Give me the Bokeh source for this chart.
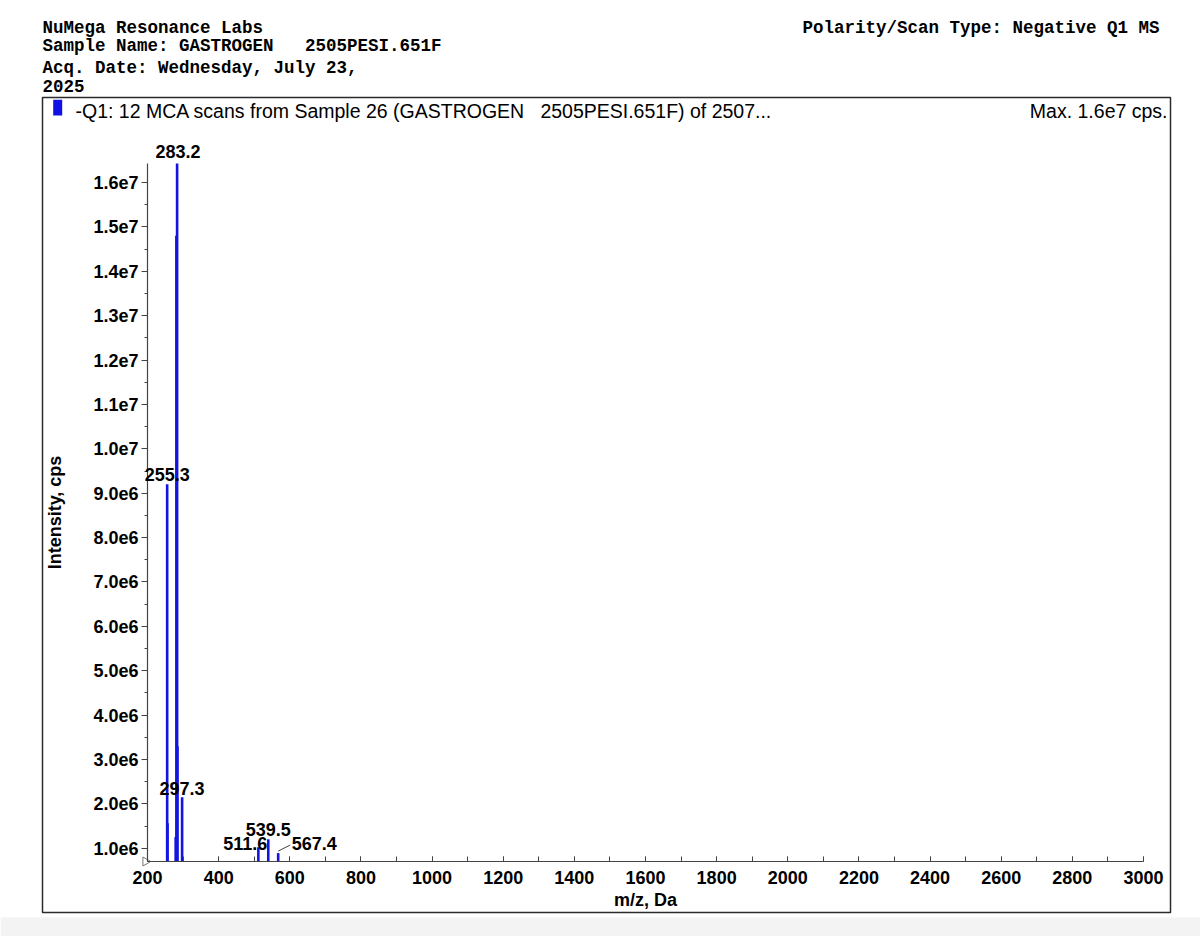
import math
from bokeh.plotting import figure
from bokeh.models import Range1d, FixedTicker, Label, BoxAnnotation, ColumnDataSource, LabelSet
from bokeh.embed import file_html
from bokeh.resources import INLINE
from bokeh.core.properties import value

# ---------------- data ----------------
peak_mz = [255.3, 256.3, 279.2, 281.2, 283.2, 284.2, 297.3, 511.6, 539.5, 567.4]
peak_int = [9.2e6, 1.56e6, 1.25e6, 1.48e7, 1.643e7, 3.3e6, 2.15e6, 1.02e6, 1.2e6, 0.89e6]

label_mz = [283.2, 255.3, 297.3, 511.6, 539.5, 567.4]
label_int = [1.643e7, 9.2e6, 2.15e6, 1.02e6, 1.2e6, 0.89e6]
label_text = ["283.2", "255.3", "297.3", "511.6", "539.5", "567.4"]

y_ticks = [1e6, 2e6, 3e6, 4e6, 5e6, 6e6, 7e6, 8e6, 9e6, 1e7, 1.1e7, 1.2e7, 1.3e7, 1.4e7, 1.5e7, 1.6e7]
y_tick_labels = ["1.0e6", "2.0e6", "3.0e6", "4.0e6", "5.0e6", "6.0e6", "7.0e6", "8.0e6", "9.0e6",
                 "1.0e7", "1.1e7", "1.2e7", "1.3e7", "1.4e7", "1.5e7", "1.6e7"]
x_ticks = [200, 400, 600, 800, 1000, 1200, 1400, 1600, 1800, 2000, 2200, 2400, 2600, 2800, 3000]
x_tick_labels = [str(t) for t in x_ticks]

NB3 = "\u00a0\u00a0\u00a0"  # three visible spaces (SVG would collapse plain ones)
header_left = ["NuMega Resonance Labs",
               "Sample Name: GASTROGEN" + NB3 + "2505PESI.651F",
               "Acq. Date: Wednesday, July 23,",
               "2025"]
header_right = "Polarity/Scan Type: Negative Q1 MS"
trace_title = "-Q1: 12 MCA scans from Sample 26 (GASTROGEN" + NB3 + "2505PESI.651F) of 2507..."
max_text = "Max. 1.6e7 cps."

# ---------------- layout constants (page pixels) ----------------
W, H = 1200, 936
X0, X1 = 200, 3000            # m/z axis extent
Y0, Y1 = 0.70e6, 16.43e6      # intensity axis extent
XA_PX, XB_PX = 147, 1143      # pixel of X0, X1
YA_PX, YB_PX = 861, 163       # pixel of Y0, Y1
kx = (X1 - X0) / (XB_PX - XA_PX)
ky = (Y1 - Y0) / (YA_PX - YB_PX)


def X(px):
    return X0 + (px - XA_PX) * kx


def Y(py):
    return Y0 + (YA_PX - py) * ky


BLUE = "#1414e0"
SANS = "Liberation Sans"
MONO = "Liberation Mono"

p = figure(width=W, height=H, output_backend="svg", toolbar_location=None, title_location=None,
           x_range=Range1d(X(0), X(W)), y_range=Range1d(Y(H), Y(0)),
           min_border=0, min_border_left=0, min_border_right=0,
           min_border_top=0, min_border_bottom=0)
p.outline_line_color = None
p.grid.visible = False
p.background_fill_color = "white"
p.border_fill_color = "white"

# light grey strip at the page bottom
p.add_layout(BoxAnnotation(left=X(0), right=X(W), top=Y(917), bottom=Y(H),
                           fill_color="#f3f3f3", fill_alpha=1, line_color=None, level="underlay"))

# axes (fixed inside the frame, bounded to the data extents)
xa = p.xaxis[0]
xa.fixed_location = Y0
xa.bounds = (X0, X1)
xa.ticker = FixedTicker(ticks=x_ticks, minor_ticks=list(range(200, 3001, 100)))
xa.major_label_overrides = {t: l for t, l in zip(x_ticks, x_tick_labels)}
xa.axis_label = "m/z, Da"
ya = p.yaxis[0]
ya.fixed_location = X0
ya.bounds = (Y0, Y1)
ya.ticker = FixedTicker(ticks=y_ticks, minor_ticks=[v * 0.5e6 for v in range(2, 33)])
ya.major_label_overrides = {t: l for t, l in zip(y_ticks, y_tick_labels)}
ya.axis_label = "Intensity, cps"
for ax in (xa, ya):
    ax.axis_line_color = "#444444"
    ax.axis_line_width = 1.2
    ax.major_tick_line_color = "#444444"
    ax.minor_tick_line_color = "#444444"
    ax.major_label_text_font = SANS
    ax.major_label_text_font_style = "bold"
    ax.major_label_text_font_size = "18px"
    ax.major_label_text_color = "black"
    ax.axis_label_text_font = SANS
    ax.axis_label_text_font_style = "bold"
    ax.axis_label_text_font_size = "18px"
    ax.axis_label_text_color = "black"
xa.major_tick_in, xa.major_tick_out = 5, 0
xa.minor_tick_in, xa.minor_tick_out = 5, 0
xa.major_label_standoff = 9
xa.axis_label_standoff = 3
ya.major_tick_in, ya.major_tick_out = 0, 6
ya.minor_tick_in, ya.minor_tick_out = 0, 3
ya.major_label_standoff = 3
ya.axis_label_standoff = 25

# peaks
src = ColumnDataSource(dict(x=peak_mz, y=peak_int, y0=[Y0] * len(peak_mz)))
p.segment(x0="x", y0="y0", x1="x", y1="y", source=src, line_color=BLUE, line_width=2.6)

# peak labels (pixel offsets keep them apart)
lx_off = [1, 0, 0, -13, 0, 36]
ly_off = [6, 3, 2, -3, 3, 3]
lsrc = ColumnDataSource(dict(x=label_mz, y=label_int, t=label_text, xo=lx_off, yo=ly_off))
p.add_layout(LabelSet(x="x", y="y", text="t", source=lsrc, x_offset="xo", y_offset="yo",
                      text_align="center", text_baseline="bottom",
                      text_font=value(SANS), text_font_style="bold", text_font_size="18px",
                      text_color="black"))
# leader line for the shifted 567.4 label
lm, li = label_mz[-1], label_int[-1]
p.segment(x0=[lm], y0=[li + 2 * ky], x1=[lm + 12 * kx], y1=[li + 8 * ky],
          line_color="#444444", line_width=1)

# small marker at the axis origin
p.scatter(x=[X0 - 2 * kx], y=[Y0], marker="triangle", size=9, angle=-math.pi / 2,
          fill_color="white", line_color="#777777", line_width=1)

# outer box and trace header
p.add_layout(BoxAnnotation(left=X(42), right=X(1170), top=Y(97), bottom=Y(912),
                           fill_alpha=0, line_color="#2a2a2a", line_alpha=1, line_width=1.5))
p.add_layout(BoxAnnotation(left=X(52.7), right=X(61.7), top=Y(99.3), bottom=Y(115),
                           fill_color="#1010e6", fill_alpha=1, line_color=None))
p.add_layout(Label(x=X(75), y=Y(110.5), text=trace_title,
                   text_font=SANS, text_font_size="19.5px", text_color="black",
                   text_baseline="alphabetic"))
p.add_layout(Label(x=X(1167), y=Y(110.5), text=max_text, text_align="right",
                   text_font=SANS, text_font_size="19.5px", text_color="black",
                   text_baseline="alphabetic"))

# page header
for txt, yb in zip(header_left, [27.5, 45.2, 67.5, 85.2]):
    p.add_layout(Label(x=X(42), y=Y(yb), text=txt,
                       text_font=MONO, text_font_style="bold", text_font_size="17.5px",
                       text_color="black", text_baseline="alphabetic"))
p.add_layout(Label(x=X(1159), y=Y(27.5), text=header_right, text_align="right",
                   text_font=MONO, text_font_style="bold", text_font_size="17.5px",
                   text_color="black", text_baseline="alphabetic"))

open("out.html", "w").write(file_html(p, INLINE))
